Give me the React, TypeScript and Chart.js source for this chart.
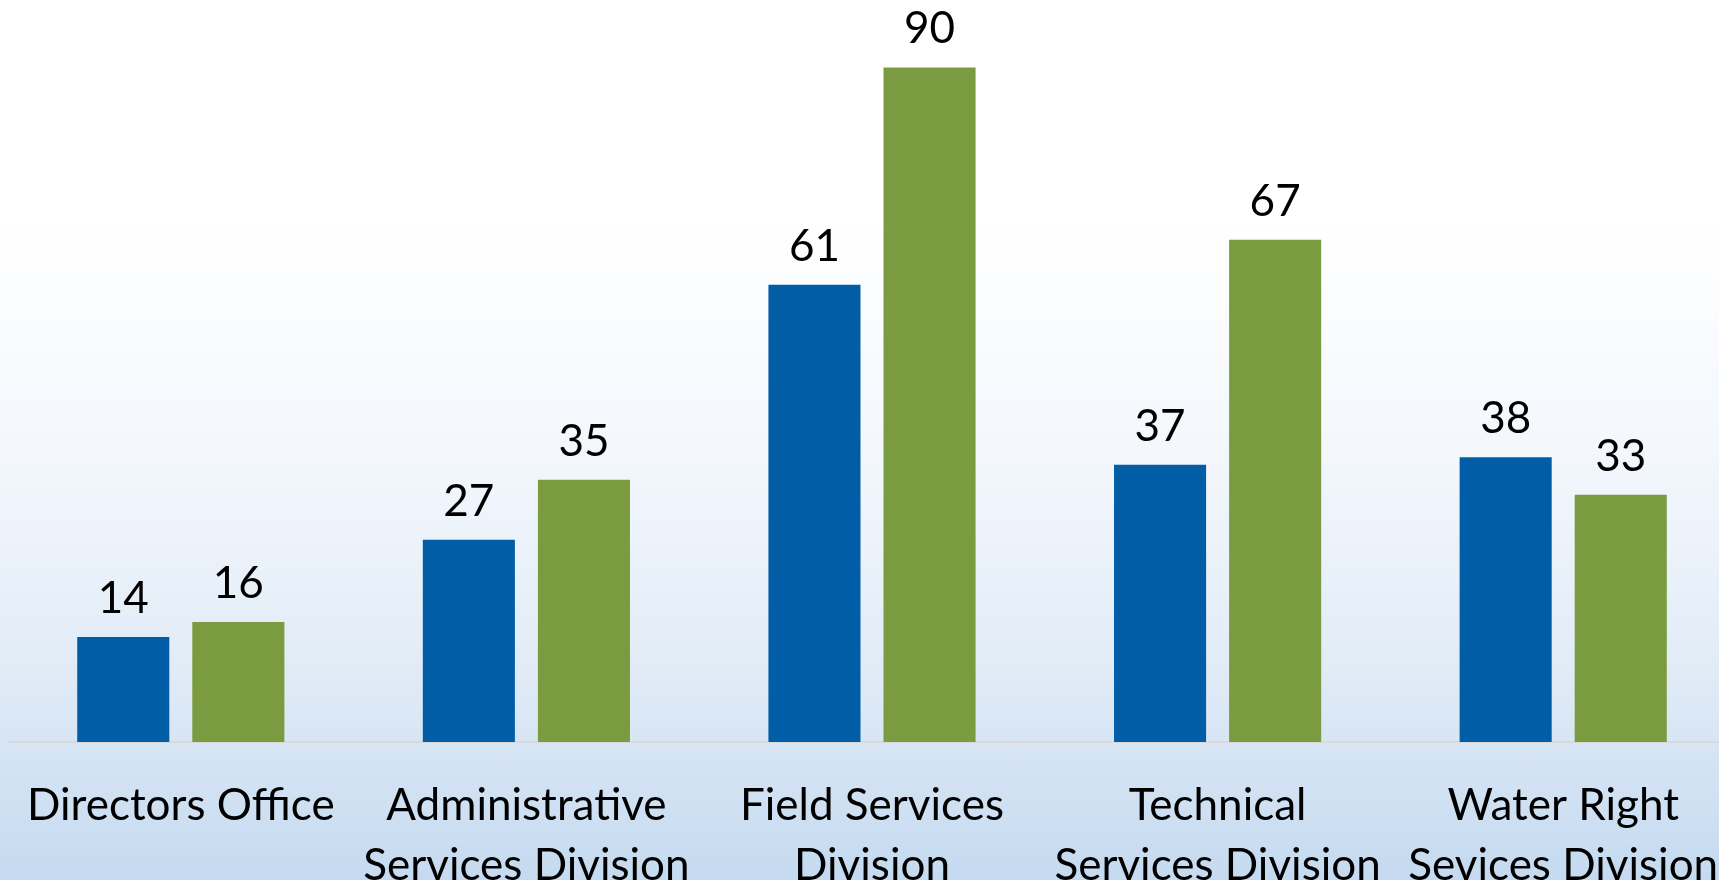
import React, { useEffect, useRef } from "react";
import { Chart, registerables } from "chart.js";

Chart.register(...registerables);

const categories: string[][] = [
  ["Directors Office"],
  ["Administrative", "Services Division"],
  ["Field Services", "Division"],
  ["Technical", "Services Division"],
  ["Water Right", "Sevices Division"],
];
const seriesBlue: number[] = [14, 27, 61, 37, 38];
const seriesGreen: number[] = [16, 35, 90, 67, 33];
const seriesNames: string[] = ["Series 1", "Series 2"];

const FONT = "Lato, Carlito, 'Open Sans', sans-serif";
const FONT_SIZE = 44;

const valueLabels = {
  id: "valueLabels",
  afterDatasetsDraw(chart: any) {
    const ctx = chart.ctx;
    ctx.save();
    ctx.font = `${FONT_SIZE}px ${FONT}`;
    ctx.fillStyle = "#000000";
    ctx.textAlign = "center";
    ctx.textBaseline = "alphabetic";
    chart.data.datasets.forEach((ds: any, i: number) => {
      const meta = chart.getDatasetMeta(i);
      meta.data.forEach((el: any, j: number) => {
        ctx.fillText(String(ds.data[j]), el.x, el.y - 24);
      });
    });
    ctx.restore();
  },
};

export default function App() {
  const ref = useRef<HTMLCanvasElement | null>(null);
  useEffect(() => {
    if (!ref.current) return;
    const chart = new Chart(ref.current, {
      type: "bar",
      data: {
        labels: categories,
        datasets: [
          {
            label: seriesNames[0],
            data: seriesBlue,
            backgroundColor: "#005DA6",
            barPercentage: 0.8,
            categoryPercentage: 0.666,
          },
          {
            label: seriesNames[1],
            data: seriesGreen,
            backgroundColor: "#7A9B3F",
            barPercentage: 0.8,
            categoryPercentage: 0.666,
          },
        ],
      },
      options: {
        animation: false,
        responsive: false,
        devicePixelRatio: 1,
        layout: { padding: { left: 8, right: 0, top: 0, bottom: 0 } },
        plugins: {
          legend: { display: false },
          tooltip: { enabled: false },
        },
        scales: {
          y: {
            display: false,
            min: 0,
            max: 99,
          },
          x: {
            grid: {
              display: true,
              drawOnChartArea: false,
              drawTicks: true,
              tickLength: 34,
              color: "rgba(0,0,0,0)",
            },
            border: { display: true, color: "#d9d9d9", width: 2 },
            ticks: {
              color: "#000000",
              maxRotation: 0,
              autoSkip: false,
              padding: 0,
              font: { family: FONT, size: FONT_SIZE, lineHeight: "60px" },
            },
            afterFit(scale: any) {
              scale.height = 160;
              scale.paddingLeft = 0;
              scale.paddingRight = 0;
            },
          },
        },
      },
      plugins: [valueLabels],
    });
    return () => chart.destroy();
  }, []);

  return (
    <div
      style={{
        position: "fixed",
        top: 0,
        left: 0,
        width: "1719px",
        height: "880px",
        overflow: "hidden",
        background:
          "linear-gradient(to bottom, #ffffff 0%, #ffffff 25%, #f4f8fd 50%, #e2ecf7 75%, #c5daf0 100%)",
      }}
    >
      <canvas
        ref={ref}
        width={1736}
        height={902}
        style={{ display: "block", width: "1736px", height: "902px" }}
      />
    </div>
  );
}
